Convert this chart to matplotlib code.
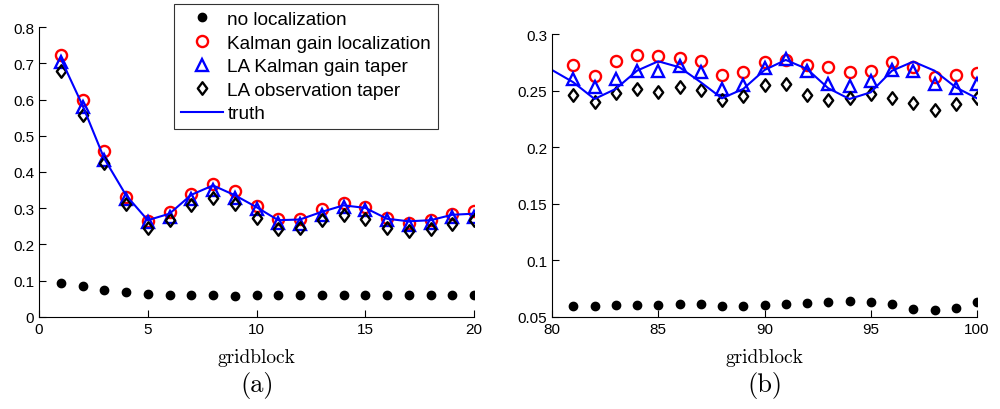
import matplotlib
matplotlib.use("Agg")
import matplotlib.pyplot as plt
from matplotlib.path import Path
import numpy as np

# ---------------- data ----------------
xa = list(range(1, 21))
noloc_a = [0.095, 0.086, 0.075, 0.069, 0.063, 0.062, 0.062, 0.060, 0.059, 0.062,
           0.062, 0.062, 0.061, 0.062, 0.061, 0.061, 0.060, 0.061, 0.062, 0.062]
kgl_a = [0.722, 0.600, 0.457, 0.331, 0.265, 0.290, 0.340, 0.367, 0.347, 0.306,
         0.269, 0.269, 0.297, 0.315, 0.304, 0.274, 0.260, 0.268, 0.283, 0.292]
lakg_a = [0.703, 0.579, 0.432, 0.326, 0.262, 0.276, 0.326, 0.349, 0.328, 0.297,
          0.259, 0.257, 0.280, 0.303, 0.294, 0.267, 0.255, 0.260, 0.276, 0.276]
laobs_a = [0.680, 0.558, 0.426, 0.313, 0.246, 0.267, 0.310, 0.328, 0.311, 0.274,
           0.244, 0.246, 0.267, 0.282, 0.271, 0.246, 0.236, 0.244, 0.257, 0.267]
truth_a = [0.713, 0.584, 0.437, 0.336, 0.267, 0.285, 0.337, 0.363, 0.336, 0.303,
           0.267, 0.269, 0.290, 0.308, 0.301, 0.271, 0.264, 0.267, 0.282, 0.285]

xb = list(range(81, 101))
noloc_b = [0.0597, 0.0597, 0.0609, 0.0603, 0.0609, 0.0618, 0.0618, 0.0597, 0.0597, 0.0603,
           0.0612, 0.0626, 0.0635, 0.0638, 0.0632, 0.0612, 0.0574, 0.0559, 0.0582, 0.0635]
kgl_b = [0.2726, 0.2629, 0.2762, 0.2815, 0.2806, 0.2791, 0.2765, 0.2638, 0.2662, 0.2756,
         0.2771, 0.2724, 0.2712, 0.2662, 0.2671, 0.2753, 0.2712, 0.2621, 0.2641, 0.2656]
lakg_b = [0.2603, 0.2529, 0.2603, 0.2676, 0.2676, 0.2715, 0.2668, 0.2515, 0.2550, 0.2697,
          0.2779, 0.2674, 0.2559, 0.2538, 0.2588, 0.2685, 0.2676, 0.2556, 0.2521, 0.2556]
laobs_b = [0.2462, 0.2397, 0.2476, 0.2515, 0.2485, 0.2529, 0.2506, 0.2421, 0.2456, 0.2553,
           0.2556, 0.2459, 0.2421, 0.2438, 0.2474, 0.2438, 0.2388, 0.2332, 0.2382, 0.2432]
xb_truth = list(range(80, 101))
truth_b = [0.2682, 0.2574, 0.2426, 0.2515, 0.2676, 0.2759, 0.2706, 0.2574, 0.2432, 0.2515, 0.2682,
           0.2771, 0.2691, 0.2521, 0.2426, 0.2485, 0.2676, 0.2756, 0.2676, 0.2529, 0.2432]

labels = ["no localization", "Kalman gain localization", "LA Kalman gain taper",
          "LA observation taper", "truth"]
yticks_a = [0, 0.1, 0.2, 0.3, 0.4, 0.5, 0.6, 0.7, 0.8]
yticklabels_a = ["0", "0.1", "0.2", "0.3", "0.4", "0.5", "0.6", "0.7", "0.8"]
xticks_a = [0, 5, 10, 15, 20]
yticks_b = [0.05, 0.1, 0.15, 0.2, 0.25, 0.3]
yticklabels_b = ["0.05", "0.1", "0.15", "0.2", "0.25", "0.3"]
xticks_b = [80, 85, 90, 95, 100]

# ---------------- figure ----------------
plt.rcParams['font.family'] = ['Liberation Sans', 'DejaVu Sans']
fig = plt.figure(figsize=(10, 4.1), dpi=100)
axa = fig.add_axes([0.039, 0.2244, 0.435, 0.7073])
axb = fig.add_axes([0.552, 0.2244, 0.425, 0.6902])

diamond = Path([(0, 1), (0.75, 0), (0, -1), (-0.75, 0), (0, 1)],
               [Path.MOVETO, Path.LINETO, Path.LINETO, Path.LINETO, Path.CLOSEPOLY])

def draw(ax, x, noloc, kgl, lakg, laobs, xt, truth):
    h1, = ax.plot(x, noloc, 'o', color='k', markersize=6, linestyle='none')
    h2, = ax.plot(x, kgl, 'o', mfc='none', mec='red', mew=1.7, markersize=8, linestyle='none')
    h3, = ax.plot(x, lakg, '^', mfc='none', mec='blue', mew=1.7, markersize=9, linestyle='none')
    h4, = ax.plot(x, laobs, marker=diamond, mfc='none', mec='k', mew=1.7, markersize=9,
                  linestyle='none')
    h5, = ax.plot(xt, truth, '-', color='blue', lw=1.5)
    for s in ['top', 'right']:
        ax.spines[s].set_visible(False)
    for s in ['left', 'bottom']:
        ax.spines[s].set_linewidth(0.8)
    ax.tick_params(direction='in', length=5, labelsize=11, width=0.8)
    ax.set_xlabel("gridblock", family='cmr10', fontsize=14, labelpad=9)
    return [h1, h2, h3, h4, h5]

handles = draw(axa, xa, noloc_a, kgl_a, lakg_a, laobs_a, xa, truth_a)
axa.set_xlim(0, 20)
axa.set_ylim(0, 0.8)
axa.set_xticks(xticks_a)
axa.set_yticks(yticks_a)
axa.set_yticklabels(yticklabels_a)

draw(axb, xb, noloc_b, kgl_b, lakg_b, laobs_b, xb_truth, truth_b)
axb.set_xlim(80, 100)
axb.set_ylim(0.05, 0.3)
axb.set_xticks(xticks_b)
axb.set_yticks(yticks_b)
axb.set_yticklabels(yticklabels_b)

leg = axa.legend(handles, labels, loc='upper right', bbox_to_anchor=(0.917, 1.079),
                 fontsize=13.7, frameon=True, fancybox=False, edgecolor='k',
                 handlelength=2.2, handletextpad=0.25, borderpad=0.35, labelspacing=0.33,
                 borderaxespad=0)
leg.get_frame().set_linewidth(0.8)

fig.text(0.257, 0.06, "(a)", family='cmr10', fontsize=19, ha='center', va='center')
fig.text(0.765, 0.06, "(b)", family='cmr10', fontsize=19, ha='center', va='center')

fig.savefig("out.png", dpi=100)
